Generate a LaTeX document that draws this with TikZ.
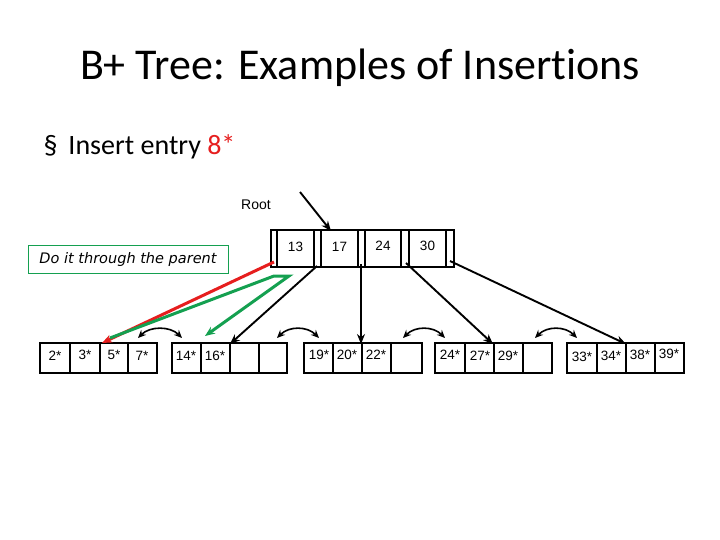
\documentclass[tikz,border=0pt]{standalone}
\usepackage{fontspec}
\usetikzlibrary{arrows.meta}
\setmainfont{Carlito}
\newfontfamily\arial{Liberation Sans}
\newfontfamily\dvs{DejaVu Sans}
\definecolor{myred}{RGB}{230,30,30}
\definecolor{mygreen}{RGB}{20,160,80}
\begin{document}
\begin{tikzpicture}[x=1pt,y=-1pt,
  cell/.style={draw,line width=1.5pt},
  lbl/.style={font=\arial\fontsize{13.5}{13.5}\selectfont,inner sep=0pt},
  ptr/.style={-{Stealth[length=10pt,width=8pt]},line width=1.9pt},
  sib/.style={{Stealth[length=8pt,width=7pt]}-{Stealth[length=8pt,width=7pt]},line width=1.6pt}]
\useasboundingbox (0,0) rectangle (720,540);
\node (title) at (360,68) {\fontsize{44}{44}\selectfont B+ Tree: Examples of Insert\kern0pt ions};
\node[anchor=west] (bul) at (40,147) {\fontsize{28}{28}\selectfont §\hspace{11pt}Insert entry \textcolor{myred}{8*}};
\node[lbl,font=\arial\fontsize{14}{14}\selectfont] (rootlbl) at (256,205) {Root};
% root node
\foreach \a/\b in {271/277,277/314,314/321,321/358,358/365,365/401,401/409,409/446,446/454}
  \draw[cell] (\a,230) rectangle (\b,267);
\node[lbl] (k13) at (295.5,247) {13};
\node[lbl] (k17) at (339.5,247) {17};
\node[lbl] (k24) at (383,246) {24};
\node[lbl] (k30) at (427.5,246) {30};
% leaves
\foreach \xs in {{40,70,100,128,157},{172,201,230,259,287},{304,333,362,391,422},{435,465,494,523,552},{567,597,626,655,684}}{
  \foreach [count=\i] \x in \xs { \ifnum\i>1 \draw[cell] (\px,343) rectangle (\x,373); \fi \xdef\px{\x} }
}
\foreach \x/\t/\y in {55/2*/356,85/3*/355,114/5*/355,142/7*/356,186/14*/356,215/16*/356,319/19*/355,347/20*/355,376/22*/355,450/24*/355,480/27*/356,508/29*/356,582/33*/357,611/34*/356,640/38*/355,669/39*/354}
  \node[lbl] at (\x,\y) {\t};
\coordinate (rs) at (300,192);
\coordinate (rt) at (331,231);
\draw[ptr] (rs) -- (rt);
\coordinate (p1) at (317,266); \coordinate (l2) at (230,344);
\coordinate (p2) at (361,264); \coordinate (l3) at (361,344);
\coordinate (p3) at (406,263); \coordinate (l4) at (493,344);
\coordinate (p4) at (450,261); \coordinate (l5) at (626,344);
\draw[ptr] (p1) -- (l2);
\draw[ptr] (p2) -- (l3);
\draw[ptr] (p3) -- (l4);
\draw[ptr] (p4) -- (l5);
\coordinate (p0) at (274,262); \coordinate (l1) at (102,343);
\draw[ptr,myred,line width=3pt] (p0) -- (l1);
\coordinate (g0) at (110,338); \coordinate (g1) at (274,276); \coordinate (g2) at (289,276); \coordinate (g3) at (205,336);
\draw[ptr,mygreen,line width=3pt,line join=miter] (g0) -- (g1) -- (g2) -- (g3);
\node[draw=mygreen,line width=0.8pt,minimum width=200pt,minimum height=28pt,inner sep=0pt,font=\dvs\itshape\fontsize{14.5}{14.5}\selectfont] (box) at (128,259) {Do it through the parent};
\foreach \a/\b in {138/182,277/319,403/445,535/577}
  \draw[sib] (\a,338) .. controls (\a+12,326) and (\b-12,326) .. (\b,338);
\end{tikzpicture}
\end{document}
